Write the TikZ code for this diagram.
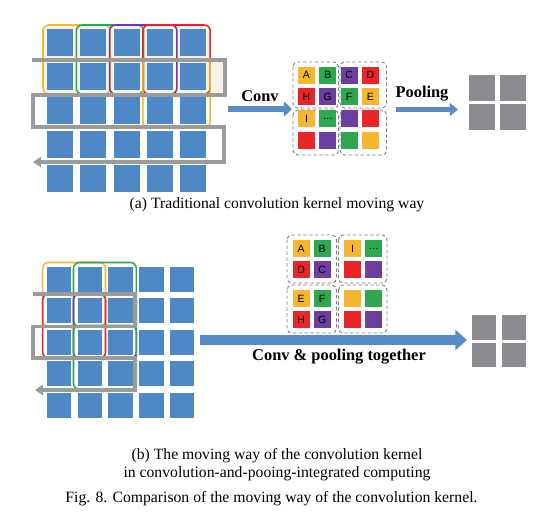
\documentclass[tikz,border=0pt]{standalone}
\usepackage{fontspec}
\setmainfont{Liberation Serif}
\setsansfont{Liberation Sans}
\usetikzlibrary{arrows.meta}

\definecolor{cellblue}{RGB}{79,137,197}
\definecolor{arrowblue}{RGB}{86,140,200}
\definecolor{kyellow}{RGB}{247,182,48}
\definecolor{kgreen}{RGB}{46,168,80}
\definecolor{kpurple}{RGB}{108,62,160}
\definecolor{kred}{RGB}{234,36,40}
\definecolor{pathgray}{RGB}{155,155,155}
\definecolor{outgray}{RGB}{140,140,144}
\definecolor{beige}{RGB}{246,242,230}

\tikzset{
  kernel/.style={line width=1.3pt, rounded corners=5pt},
  movepath/.style={pathgray, line width=2.6pt, -{Triangle[length=7pt,width=9pt]}},
  cell/.style={minimum size=0.51cm, inner sep=0pt, font=\sffamily\fontsize{9}{9}\selectfont},
  group/.style={gray, line width=0.8pt, dash pattern=on 3pt off 2pt, rounded corners=4pt},
  bluearrow/.style={arrowblue, line width=5.6pt, -{Triangle[length=7pt,width=13pt]}},
  bigarrow/.style={arrowblue, line width=8.5pt, -{Triangle[length=10pt,width=17pt]}},
  boldlabel/.style={font=\bfseries\fontsize{14}{16}\selectfont},
  caption/.style={font=\fontsize{13.4}{15.5}\selectfont, align=center}
}

\begin{document}
\begin{tikzpicture}[x=0.03cm, y=-0.03cm]
\useasboundingbox (0,0) rectangle (543,527);

% (a) input map
\fill[beige, rounded corners=5pt] (43,25) rectangle (212,95);
\fill[beige] (205,60) rectangle (225,95);
\foreach \i in {0,...,4}
  \foreach \j in {0,...,4}
    \fill[cellblue] (47+33.3*\i, 29+34*\j) rectangle ++(26,27);
\foreach \i/\j/\c in {0/0/kyellow, 1/0/kgreen, 2/0/kpurple, 3/0/kred, 3/1/kyellow}
  \draw[kernel, \c] (43+33.3*\i, 25+34*\j) rectangle ++(67.3,69);
\draw[movepath] (31.7,60) -- (225,60) -- (225,95) -- (33,95) -- (33,127) -- (224,127) -- (224,162) -- (33,162);

% (a) conv result
\foreach \i/\j/\c/\t in {0/0/kyellow/A, 1/0/kgreen/B, 2/0/kpurple/C, 3/0/kred/D,
    0/1/kred/H, 1/1/kpurple/G, 2/1/kgreen/F, 3/1/kyellow/E,
    0/2/kyellow/I, 1/2/kgreen/\ldots, 2/2/kpurple/{}, 3/2/kred/{},
    0/3/kred/{}, 1/3/kpurple/{}, 2/3/kgreen/{}, 3/3/kyellow/{}}
  \node[cell, fill=\c] (ca-\i-\j) at (306.5+21.3*\i, 75+21.8*\j) {\t};
\draw[group] (293,62) rectangle (338.5,108);
\draw[group] (340,62) rectangle (386.5,108);
\draw[group] (293,110) rectangle (338.5,155);
\draw[group] (340,110) rectangle (386.5,155);

% (a) arrows
\coordinate (convL) at (228,109);
\coordinate (convR) at (292,109);
\draw[bluearrow] (convL) -- (convR);
\node[boldlabel] (convlab) at (260,96) {Conv};
\coordinate (poolL) at (396,109.5);
\coordinate (poolR) at (458,109.5);
\draw[bluearrow, line width=5pt, -{Triangle[length=7pt,width=11pt]}] (poolL) -- (poolR);
\node[boldlabel] (poollab) at (422,94) {Pooling};

% (a) pooled map
\foreach \i in {0,1}
  \foreach \j in {0,1}
    \fill[outgray] (468.5+31*\i, 75+29*\j) rectangle ++(26,26);

\node[caption] (capa) at (277,205) {(a) Traditional convolution kernel moving way};

% (b) input map
\foreach \i in {0,...,4}
  \foreach \j in {0,...,4}
    \fill[cellblue] (46.7+30.8*\i, 266.7+31.5*\j) rectangle ++(24.5,25);
\foreach \i/\j/\c in {0/0/kyellow, 1/0/kgreen, 0/1/kred, 1/1/kpurple, 1/2/kgreen}
  \draw[kernel, \c] (42.7+30.8*\i, 262.5+31.5*\j) rectangle ++(62.8,64);
\draw[movepath] (33,294) -- (135,294) -- (135,326.5) -- (33,326.5) -- (33,358) -- (135,358) -- (135,390) -- (35,390);

% (b) kernel groups
\foreach \i/\j/\c/\t in {0/0/kyellow/A, 1/0/kgreen/B, 0/1/kred/D, 1/1/kpurple/C,
    2/0/kyellow/I, 3/0/kgreen/\ldots, 2/1/kred/{}, 3/1/kpurple/{}}
  \node[cell, fill=\c] (cb-\i-\j) at ({301.2+21*\i+9.5*int(\i/2)}, {248.5+21*\j}) {\t};
\foreach \i/\j/\c/\t in {0/0/kyellow/E, 1/0/kgreen/F, 0/1/kred/H, 1/1/kpurple/G,
    2/0/kyellow/{}, 3/0/kgreen/{}, 2/1/kred/{}, 3/1/kpurple/{}}
  \node[cell, fill=\c] (cc-\i-\j) at ({301.2+21*\i+9.5*int(\i/2)}, {298.5+21*\j}) {\t};
\draw[group] (287,235) rectangle (336.5,283);
\draw[group] (338.5,235) rectangle (387,283);
\draw[group] (287,285) rectangle (336.5,333);
\draw[group] (338.5,285) rectangle (387,333);

% (b) arrow
\coordinate (togL) at (200,340);
\coordinate (togR) at (467,340);
\draw[bigarrow] (togL) -- (togR);
\node[boldlabel] (toglab) at (339,357) {Conv \& pooling together};

% (b) pooled map
\foreach \i in {0,1}
  \foreach \j in {0,1}
    \fill[outgray] (471.5+30*\i, 315+27.5*\j) rectangle ++(24,24.5);

\node[caption] (capb) at (277,465) {(b) The moving way of the convolution kernel\\in convolution-and-pooing-integrated computing};
\node[caption] (figcap) at (271.5,499) {Fig. 8. Comparison of the moving way of the convolution kernel.};
\end{tikzpicture}
\end{document}
